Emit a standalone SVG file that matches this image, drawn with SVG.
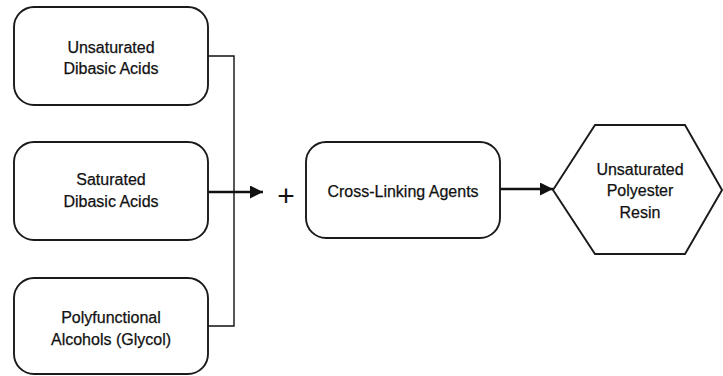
<svg xmlns="http://www.w3.org/2000/svg" width="723" height="376" viewBox="0 0 723 376">
<style>
.box{fill:#fff;stroke:#1a1a1a;stroke-width:1.9}
.t{font-family:"Liberation Sans",Arial,sans-serif;font-size:16px;fill:#111;stroke:#111;stroke-width:0.25;text-anchor:middle}
.thin{fill:none;stroke:#111;stroke-width:1.4}
.thick{fill:none;stroke:#111;stroke-width:2.3}
</style>
<defs>
<marker id="ah" viewBox="0 0 10 10" refX="10" refY="5" markerWidth="13" markerHeight="13" markerUnits="userSpaceOnUse" orient="auto">
<path d="M0,0 L10,5 L0,10 Z" fill="#111"/>
</marker>
</defs>
<rect width="723" height="376" fill="#fff"/>
<g id="connectors">
<path class="thin" d="M207,56 H234 V326 H207"/>
<path class="thick" d="M207,192 H263" marker-end="url(#ah)"/>
<path class="thick" d="M500,189 H553" marker-end="url(#ah)"/>
<text class="t" x="286" y="206" style="font-size:30px;stroke-width:0">+</text>
</g>
<g id="unsat-acids">
<rect class="box" x="14" y="7" width="194" height="98" rx="20"/>
<text class="t" x="111" y="53">Unsaturated</text>
<text class="t" x="111" y="74">Dibasic Acids</text>
</g>
<g id="sat-acids">
<rect class="box" x="14" y="142" width="194" height="98" rx="20"/>
<text class="t" x="111" y="185">Saturated</text>
<text class="t" x="111" y="207">Dibasic Acids</text>
</g>
<g id="alcohols">
<rect class="box" x="14" y="278" width="194" height="96" rx="20"/>
<text class="t" x="111" y="323">Polyfunctional</text>
<text class="t" x="111" y="345">Alcohols (Glycol)</text>
</g>
<g id="crosslink">
<rect class="box" x="306" y="142" width="194" height="96" rx="20"/>
<text class="t" x="403" y="197">Cross-Linking Agents</text>
</g>
<g id="resin">
<polygon class="box" points="553,190 595,125 685,125 722,190 685,254 595,254"/>
<text class="t" x="640" y="175">Unsaturated</text>
<text class="t" x="640" y="196">Polyester</text>
<text class="t" x="640" y="218">Resin</text>
</g>
</svg>
